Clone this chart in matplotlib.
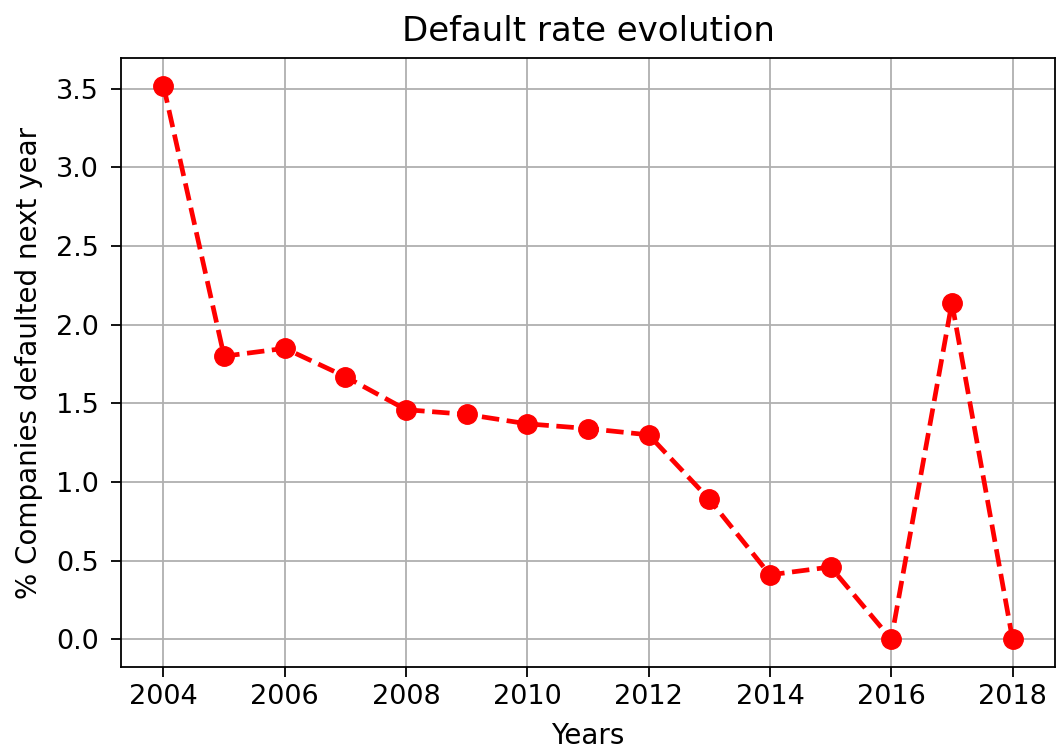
import matplotlib
matplotlib.use("Agg")
import matplotlib.pyplot as plt

years = [2004, 2005, 2006, 2007, 2008, 2009, 2010, 2011, 2012, 2013, 2014, 2015, 2016, 2017, 2018]
default_rate = [3.52, 1.80, 1.85, 1.67, 1.46, 1.43, 1.37, 1.34, 1.30, 0.89, 0.41, 0.46, 0.0, 2.14, 0.0]
xticks = [2004, 2006, 2008, 2010, 2012, 2014, 2016, 2018]

fig = plt.figure(figsize=(10.61, 7.52), dpi=100)
ax = fig.add_axes([121/1061, 1-667/752, (1055-121)/1061, (667-58)/752])
ax.plot(years, default_rate, color='red', linestyle='--', marker='o', linewidth=3.4, markersize=14)
ax.set_xticks(xticks)
ax.grid(True, color='#b0b0b0', linewidth=1.3)
ax.set_title("Default rate evolution", fontsize=24.5, pad=12)
ax.set_xlabel("Years", fontsize=20, labelpad=9)
ax.set_ylabel("% Companies defaulted next year", fontsize=20, labelpad=9)
ax.tick_params(labelsize=19.5, length=7, width=1.3)
ax.tick_params(axis='y', pad=9)
ax.tick_params(axis='x', pad=5)
for s in ax.spines.values():
    s.set_linewidth(1.3)
fig.savefig("out.png", dpi=100)
